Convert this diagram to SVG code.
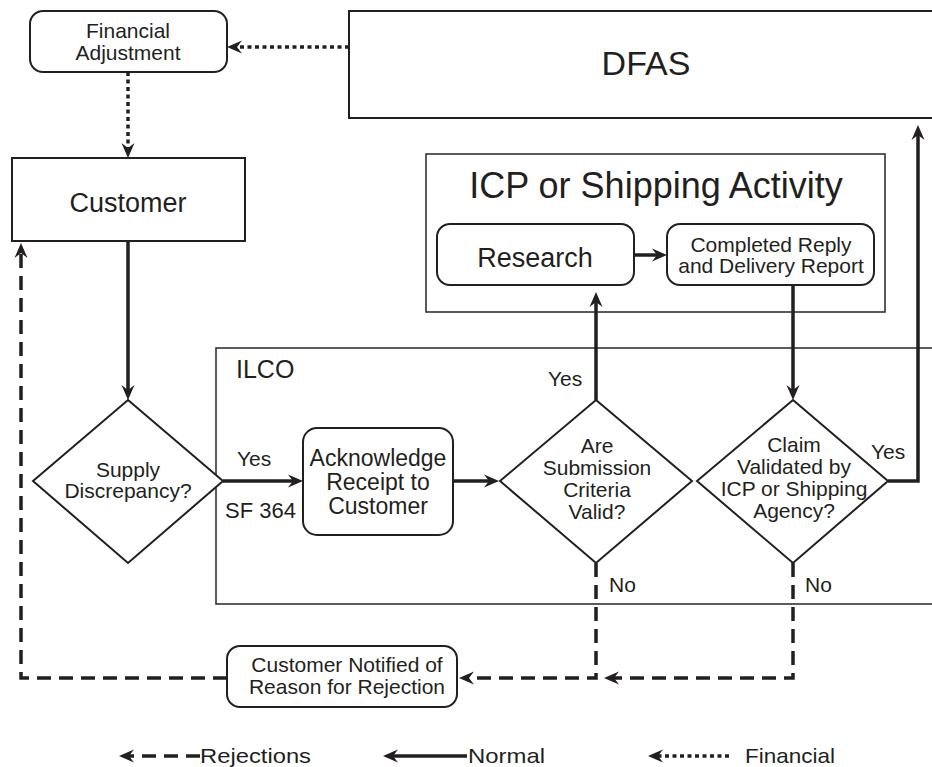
<svg xmlns="http://www.w3.org/2000/svg" width="932" height="767" viewBox="0 0 932 767">
<style>
text{font-family:"Liberation Sans",Arial,Helvetica,sans-serif;fill:#231f20}
.box{fill:#fff;stroke:#231f20;stroke-width:2}
.cont{fill:none;stroke:#333;stroke-width:1.6}
.c{text-anchor:middle}
.n{fill:none;stroke:#231f20;stroke-width:3.5}
.r{fill:none;stroke:#231f20;stroke-width:3.5;stroke-dasharray:14 8}
.f{fill:none;stroke:#231f20;stroke-width:3.5;stroke-dasharray:4 3.5}
</style>
<defs>
<marker id="ah" markerUnits="userSpaceOnUse" markerWidth="18" markerHeight="16" viewBox="-16 -8 18 16" refX="-8" refY="0" orient="auto" overflow="visible">
<path d="M0,0 L-15,-6.5 L-10,0 L-15,6.5 Z" fill="#231f20"/>
</marker>
</defs>
<rect width="932" height="767" fill="#fff"/>

<g id="dfas"><rect class="box" x="349" y="11" width="600" height="107"/><text class="c" x="646" y="75" font-size="34">DFAS</text></g>
<g id="ilco"><rect class="cont" x="216" y="348" width="730" height="256"/><text x="236" y="378" font-size="25">ILCO</text></g>
<g id="icp"><rect class="cont" x="426" y="154" width="459" height="158"/><text class="c" x="656" y="198" font-size="36">ICP or Shipping Activity</text></g>

<g id="financial-adjustment"><rect class="box" x="30" y="11" width="197" height="61" rx="13"/><text class="c" x="128" y="38" font-size="21">Financial</text><text class="c" x="128" y="60" font-size="21">Adjustment</text></g>
<g id="customer"><rect class="box" x="12" y="158" width="233" height="83"/><text class="c" x="128" y="212" font-size="27">Customer</text></g>
<g id="research"><rect class="box" x="437" y="224" width="197" height="61" rx="13"/><text class="c" x="535" y="267" font-size="27">Research</text></g>
<g id="completed"><rect class="box" x="667" y="224" width="207" height="61" rx="13"/><text class="c" x="771" y="252" font-size="21">Completed Reply</text><text class="c" x="771" y="273" font-size="21">and Delivery Report</text></g>
<g id="supply"><polygon class="box" points="128,400 223,481 128,563 33,481"/><text class="c" x="128" y="477" font-size="21">Supply</text><text class="c" x="128" y="498" font-size="21">Discrepancy?</text></g>
<g id="acknowledge"><rect class="box" x="303" y="428" width="150" height="107" rx="14"/><text class="c" x="378" y="466" font-size="23">Acknowledge</text><text class="c" x="378" y="490" font-size="23">Receipt to</text><text class="c" x="378" y="514" font-size="23">Customer</text></g>
<g id="criteria"><polygon class="box" points="596,400 692,481 596,563 500,481"/><text class="c" x="597" y="453" font-size="21">Are</text><text class="c" x="597" y="475" font-size="21">Submission</text><text class="c" x="597" y="497" font-size="21">Criteria</text><text class="c" x="597" y="519" font-size="21">Valid?</text></g>
<g id="claim"><polygon class="box" points="793,400 888,481 793,563 697,481"/><text class="c" x="794" y="452" font-size="21">Claim</text><text class="c" x="794" y="474" font-size="21">Validated by</text><text class="c" x="794" y="496" font-size="21">ICP or Shipping</text><text class="c" x="794" y="518" font-size="21">Agency?</text></g>
<g id="notified"><rect class="box" x="227" y="646" width="230" height="61" rx="13"/><text class="c" x="347" y="672" font-size="21">Customer Notified of</text><text class="c" x="347" y="694" font-size="21">Reason for Rejection</text></g>

<g id="connectors">
<path class="n" d="M128,241 V392" marker-end="url(#ah)"/>
<path class="n" d="M223,481 H295" marker-end="url(#ah)"/>
<path class="n" d="M453,481 H491" marker-end="url(#ah)"/>
<path class="n" d="M596,400 V300" marker-end="url(#ah)"/>
<path class="n" d="M634,255 H659" marker-end="url(#ah)"/>
<path class="n" d="M793,285 V392" marker-end="url(#ah)"/>
<path class="n" d="M888,481 H918 V133" marker-end="url(#ah)"/>
<path class="f" d="M349,47 H235" marker-end="url(#ah)"/>
<path class="f" d="M128,72 V150" marker-end="url(#ah)"/>
<path class="r" d="M793,563 V678 H612" marker-end="url(#ah)"/>
<path class="r" d="M596,563 V678 H467" marker-end="url(#ah)"/>
<path class="r" d="M227,678 H21 V251" marker-end="url(#ah)"/>
<text x="237" y="466" font-size="21">Yes</text>
<text x="225" y="518" font-size="22">SF 364</text>
<text x="548" y="386" font-size="21">Yes</text>
<text x="871" y="459" font-size="21">Yes</text>
<text x="609" y="592" font-size="21">No</text>
<text x="805" y="592" font-size="21">No</text>
</g>

<g id="legend">
<path class="r" d="M200,756 H127" marker-end="url(#ah)"/>
<path class="n" d="M467,756 H391" marker-end="url(#ah)"/>
<path class="f" d="M729,756 H656" marker-end="url(#ah)"/>
<text x="200" y="763" font-size="21" textLength="111" lengthAdjust="spacingAndGlyphs">Rejections</text>
<text x="468" y="763" font-size="21" textLength="77" lengthAdjust="spacingAndGlyphs">Normal</text>
<text x="745" y="763" font-size="21" textLength="90" lengthAdjust="spacingAndGlyphs">Financial</text>
</g>
</svg>
